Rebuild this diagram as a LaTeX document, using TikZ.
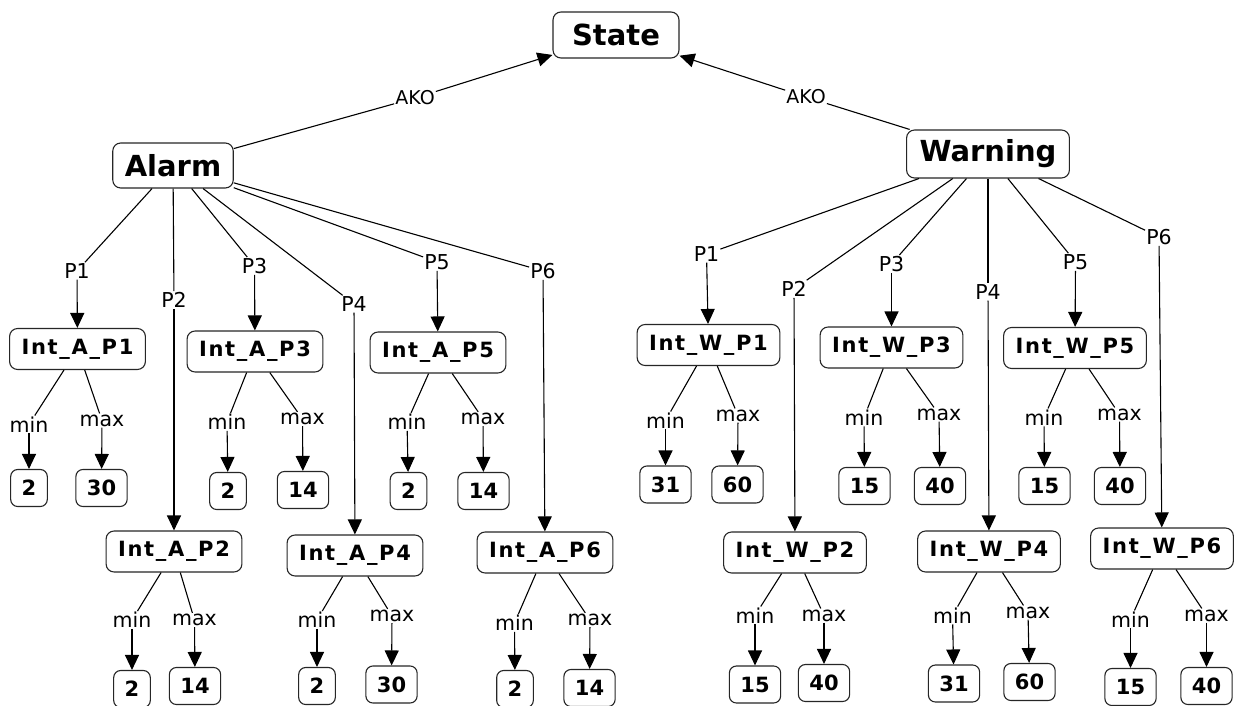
\documentclass[tikz,border=0pt]{standalone}
\usepackage{fontspec}
\setmainfont{DejaVu Sans}
\newfontfamily\intfont[LetterSpace=8]{DejaVu Sans}
\usetikzlibrary{arrows.meta}
\begin{document}
\begin{tikzpicture}[x=1pt,y=-1pt,
  lbl/.style={inner sep=1pt, font=\fontsize{20.5}{24}\selectfont},
  boxbase/.style={draw=black!85, line width=1.1pt, fill=white},
  topbox/.style={boxbase, rounded corners=8pt, font=\bfseries\fontsize{29}{34}\selectfont, minimum height=46pt, inner xsep=12pt},
  intbox/.style={boxbase, rounded corners=8pt, font=\intfont\bfseries\fontsize{21}{25}\selectfont, minimum height=41pt, inner xsep=12pt},
  leaf/.style={boxbase, rounded corners=7pt, font=\bfseries\fontsize{21}{25}\selectfont, minimum height=37pt, inner xsep=11pt},
  edge/.style={line width=1.1pt},
  arr/.style={line width=1.1pt, -{Triangle[length=15pt,width=14pt]}},
]
\useasboundingbox (0,0) rectangle (1236,706);

% top level
\node[topbox, minimum width=126pt] (State) at (616,35) {State};
\node[topbox, minimum height=45pt] (Alarm) at (173,165.5) {Alarm};
\node[topbox, minimum height=48pt, inner xsep=13pt] (Warning) at (988,154) {Warning};
\node[lbl, font=\fontsize{19}{23}\selectfont] (akoA) at (415,98) {AKO};
\node[lbl, font=\fontsize{19}{23}\selectfont] (akoW) at (806,97) {AKO};
\draw[edge] (Alarm) -- (akoA);
\draw[arr] (akoA) -- (State);
\draw[edge] (Warning) -- (akoW);
\draw[arr] (akoW) -- (State);

% property links to interval nodes
\foreach \pa/\id/\pl/\px/\py/\ix/\iy/\tx in {
  Alarm/A1/P1/77/271/77.5/349/Int\_A\_P1,
  Alarm/A2/P2/174/300/174/551.5/Int\_A\_P2,
  Alarm/A3/P3/254.5/266/255/351.5/Int\_A\_P3,
  Alarm/A4/P4/354/304/355/555.5/Int\_A\_P4,
  Alarm/A5/P5/437/262/438/352.5/Int\_A\_P5,
  Alarm/A6/P6/543/271/545/552.5/Int\_A\_P6,
  Warning/W1/P1/706.5/254/708.5/345/Int\_W\_P1,
  Warning/W2/P2/794/289/795/552.5/Int\_W\_P2,
  Warning/W3/P3/891.5/264/891.5/347.5/Int\_W\_P3,
  Warning/W4/P4/988/292/989/551.5/Int\_W\_P4,
  Warning/W5/P5/1075.5/262/1075/348/Int\_W\_P5,
  Warning/W6/P6/1159/237/1162/548.5/Int\_W\_P6}{
  \node[lbl] (\id p) at (\px,\py) {\pl};
  \node[intbox] (\id) at (\ix,\iy) {\tx};
  \draw[edge] (\pa) -- (\id p);
  \draw[arr] (\id p) -- (\id);
}

% min / max values
\foreach \id/\ax/\ay/\bx/\by/\cx/\cy/\ct/\dx/\dy/\dt in {
  A1/29/424.5/102/420.5/29/488/2/101.5/488/30,
  A3/227/422/302.5/419/228/491/2/303/490/14,
  A5/407/422/483/419/408.5/491/2/483.5/491/14,
  A2/132/620/194.5/620/132/689/2/195/686/14,
  A4/317/620/392/616/317/686/2/391.5/684.5/30,
  A6/514.5/623/590/620/515/689/2/589.5/688/14,
  W1/665.5/420.5/738/415.5/665.5/484.5/31/737.5/484.5/60,
  W3/864/417.5/939/414.5/864.5/486/15/940/486/40,
  W5/1044/417.5/1119.5/414.5/1044.5/486/15/1120/486/40,
  W2/755/615.5/824/615.5/755/684.5/15/824/683/40,
  W4/952.5/615.5/1028/612.5/954/683.5/31/1029.5/682/60,
  W6/1130.5/619.5/1206.5/615.5/1130.5/687/15/1206.5/686/40}{
  \node[lbl] (\id mn) at (\ax,\ay) {min};
  \node[lbl] (\id mx) at (\bx,\by) {max};
  \node[leaf] (\id lo) at (\cx,\cy) {\ct};
  \node[leaf] (\id hi) at (\dx,\dy) {\dt};
  \draw[edge] (\id) -- (\id mn);
  \draw[edge] (\id) -- (\id mx);
  \draw[arr] (\id mn) -- (\id lo);
  \draw[arr] (\id mx) -- (\id hi);
}
\end{tikzpicture}
\end{document}
